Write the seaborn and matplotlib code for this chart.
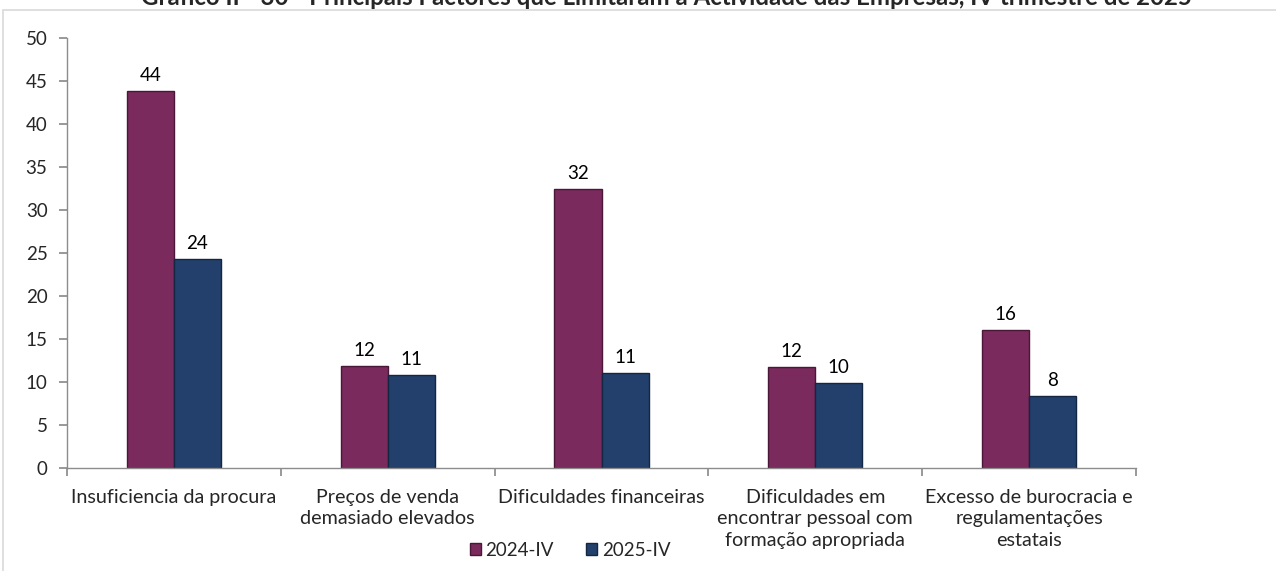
import pandas as pd
import matplotlib.pyplot as plt
import seaborn as sns
from matplotlib.patches import Rectangle, Patch

# Data
categories = [
    "Insuficiencia da procura",
    "Preços de venda\ndemasiado elevados",
    "Dificuldades financeiras",
    "Dificuldades em\nencontrar pessoal com\nformação apropriada",
    "Excesso de burocracia e\nregulamentações\nestatais",
]
periods = ["2024-IV", "2025-IV"]
values_2024 = [43.8, 11.9, 32.4, 11.8, 16.1]
values_2025 = [24.3, 10.8, 11.0, 9.9, 8.4]
colors = ["#7A2A5C", "#233F6C"]
edge_colors = ["#4A1738", "#132642"]

title = ("Gráfico II - 30 - Principais Factores que Limitaram a Actividade "
         "das Empresas, IV trimestre de 2025")

df = pd.DataFrame({
    "categoria": categories * 2,
    "periodo": [periods[0]] * len(categories) + [periods[1]] * len(categories),
    "valor": values_2024 + values_2025,
})

sns.set_theme(style="white")
plt.rcParams["font.family"] = ["Lato", "DejaVu Sans"]
fs = 13.5

fig = plt.figure(figsize=(12.76, 5.71), dpi=100)
ax = fig.add_axes([67 / 1276, 1 - 468 / 571, (1136 - 67) / 1276, (468 - 38) / 571])

# light chart-area frame
fig.patches.append(Rectangle((3 / 1276, -0.5), 1.5, 0.5 + 1 - 10 / 571,
                             transform=fig.transFigure, fill=False,
                             edgecolor="#D9D9D9", linewidth=1.2))

sns.barplot(data=df, x="categoria", y="valor", hue="periodo", order=categories,
            hue_order=periods, palette=colors, width=0.44, ax=ax, legend=False,
            saturation=1)

for cont, ec in zip(ax.containers, edge_colors):
    for bar in cont:
        bar.set_edgecolor(ec)
        bar.set_linewidth(1.0)
    ax.bar_label(cont, fmt="%.0f", padding=5, fontsize=fs, color="#000000")

ax.set_ylim(0, 50)
ax.set_yticks(range(0, 51, 5))
ax.set_xlim(-0.5, len(categories) - 0.5)
ax.set_xlabel("")
ax.set_ylabel("")

for side in ["top", "right"]:
    ax.spines[side].set_visible(False)
for side in ["left", "bottom"]:
    ax.spines[side].set_color("#8C8C8C")
    ax.spines[side].set_linewidth(1.0)

ax.tick_params(axis="y", which="major", left=True, direction="out", length=6,
               color="#8C8C8C", labelsize=fs, pad=8)
ax.set_xticks([i - 0.5 for i in range(len(categories) + 1)], minor=False)
ax.set_xticklabels([])
ax.tick_params(axis="x", which="major", bottom=True, direction="out", length=6,
               color="#8C8C8C")
ax.set_xticks(range(len(categories)), minor=True)
ax.set_xticklabels(categories, minor=True, fontsize=14.2, linespacing=1.32)
ax.tick_params(axis="x", which="minor", length=0, pad=15)

# legend at the bottom
handles = [Patch(facecolor=c, edgecolor=e, label=p)
           for c, e, p in zip(colors, edge_colors, periods)]
fig.legend(handles=handles, loc="center", bbox_to_anchor=(570 / 1276, 1 - 550 / 571),
           ncol=2, frameon=False, fontsize=fs, handlelength=0.6, handleheight=0.6,
           handletextpad=0.25, columnspacing=1.7)

# title cut off at the top edge as in the source
fig.text(666 / 1276, 1 - 5 / 571, title, ha="center", va="baseline",
         fontsize=17.3, fontweight="bold")

fig.savefig("out.png", dpi=100)
